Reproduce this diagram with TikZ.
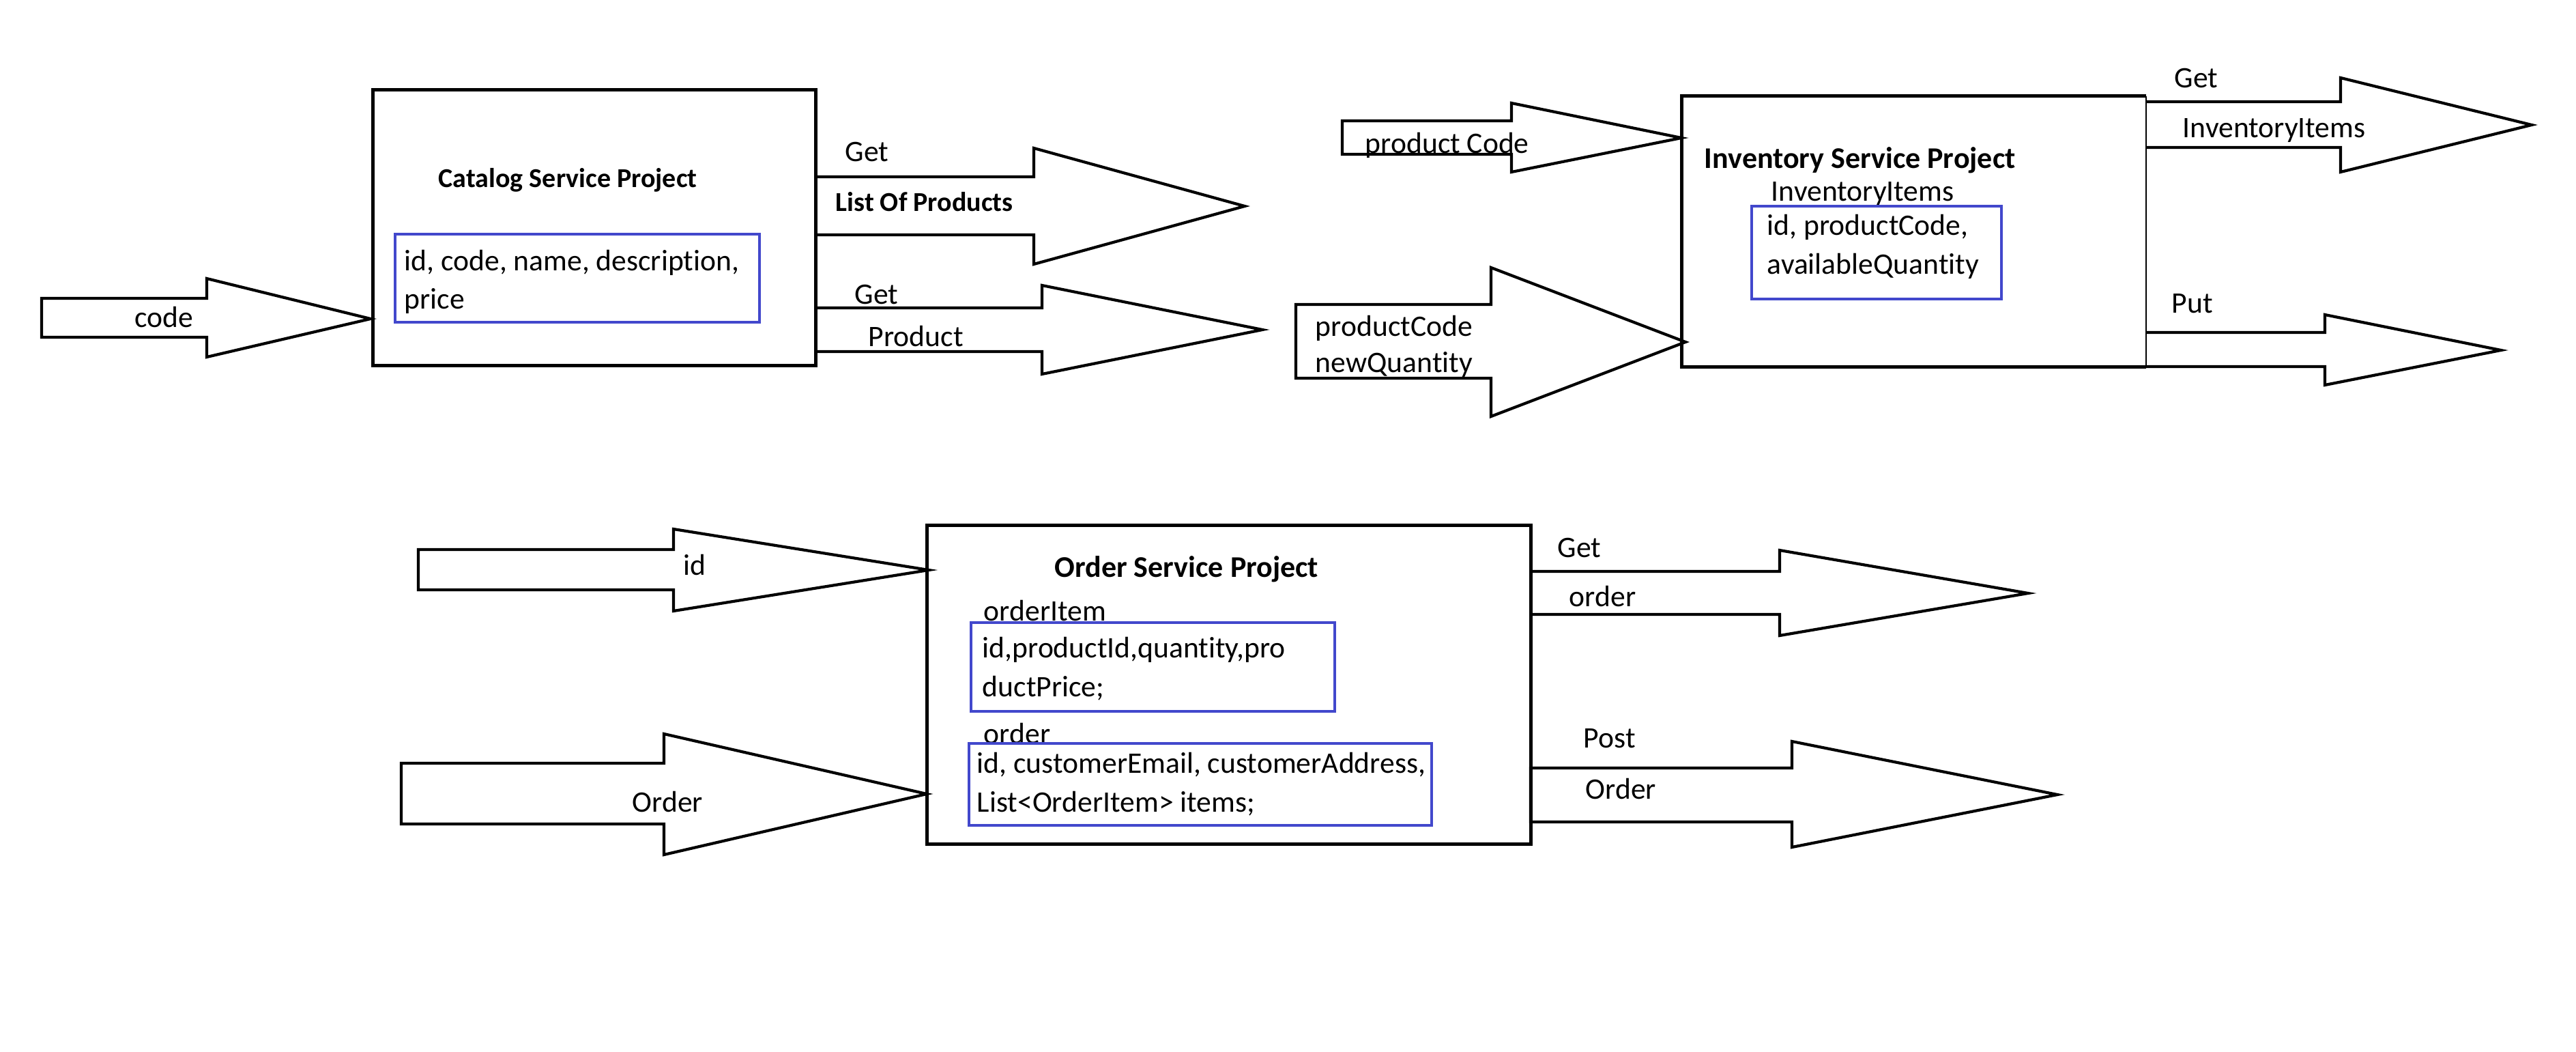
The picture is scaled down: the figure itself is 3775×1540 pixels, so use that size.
\documentclass[tikz,border=0pt]{standalone}
\usepackage{fontspec}
\setmainfont[Ligatures=NoCommon]{Carlito}
\definecolor{boxblue}{RGB}{66,72,204}
\newcommand{\closedarrow}[8]{\draw[blockarrow] (#1,#4) -- (#2,#4) -- (#2,#6) -- (#3,#8) -- (#2,#7) -- (#2,#5) -- (#1,#5) -- cycle;}
\newcommand{\openarrow}[8]{\draw[blockarrow] (#1,#4) -- (#2,#4) -- (#2,#6) -- (#3,#8) -- (#2,#7) -- (#2,#5) -- (#1,#5);}
\tikzset{
  svcbox/.style={draw=black, line width=1.25pt},
  fieldbox/.style={draw=boxblue, line width=1pt},
  blockarrow/.style={draw=black, line width=1.05pt, line join=miter},
  lbl/.style={inner sep=0pt, anchor=base west, font=\fontsize{10.9}{13}\selectfont},
  ttl/.style={inner sep=0pt, anchor=base west, font=\fontsize{10}{12}\selectfont\bfseries},
  bigttl/.style={inner sep=0pt, anchor=base west, font=\fontsize{11}{13}\selectfont\bfseries}
}
\begin{document}
\begin{tikzpicture}[x=0.25pt, y=-0.25pt]
\useasboundingbox (0,0) rectangle (3775,1540);
\fill[white] (0,0) rectangle (3775,1540);

% ---------- Catalog ----------
\draw[svcbox] (546,132) rectangle (1195,535);
\node[ttl] (cattitle) at (642,275) {Catalog Service Project};
\draw[fieldbox] (579,343) rectangle (1113,472);
\node[lbl] (catf1) at (592,397) {id, code, name, description,};
\node[lbl] (catf2) at (592,453) {price};
\closedarrow{61}{303}{543}{437}{494}{408}{523}{467}
\node[lbl] (codein) at (197,480) {code};
\openarrow{1195}{1515}{1824}{259}{344}{217}{387}{302}
\node[lbl] (catget1) at (1238,237) {Get};
\node[ttl] (catlist) at (1224,310) {List Of Products};
\openarrow{1195}{1527}{1850}{451}{515}{418}{548}{483}
\node[lbl] (catget2) at (1252,445) {Get};
\node[lbl] (catprod) at (1272,507) {Product};

% ---------- Inventory ----------
\draw[svcbox] (3145,141) -- (2464,141) -- (2464,537) -- (3145,537);
\draw[black, line width=0.5pt] (3145,141) -- (3145,537);
\node[bigttl] (invtitle) at (2497,247) {Inventory Service Project};
\node[lbl] (invitems) at (2595,295) {InventoryItems};
\draw[fieldbox] (2567,302) rectangle (2933,438);
\node[lbl] (invf1) at (2589,345) {id, productCode,};
\node[lbl] (invf2) at (2589,402) {availableQuantity};
\closedarrow{1967}{2215}{2464}{177}{226}{151}{252}{202}
\node[lbl] (pcin) at (2000,225) {product Code};
\closedarrow{1899}{2185}{2470}{446}{554}{392}{610}{501}
\node[lbl] (pcin2) at (1927,492) {productCode};
\node[lbl] (nqin) at (1927,545) {newQuantity};
\openarrow{3145}{3430}{3710}{149}{216}{114}{252}{183}
\node[lbl] (invget) at (3186,129) {Get};
\node[lbl] (invout) at (3198,202) {InventoryItems};
\openarrow{3145}{3407}{3665}{487}{537}{461}{564}{513}
\node[lbl] (invput) at (3182,458) {Put};

% ---------- Order ----------
\draw[svcbox] (1358,769) rectangle (2243,1236);
\node[bigttl] (ordtitle) at (1545,845) {Order Service Project};
\node[lbl] (oilbl) at (1441,909) {orderItem};
\draw[fieldbox] (1423,912) rectangle (1956,1042);
\node[lbl] (oif1) at (1439,963) {id,productId,quantity,pro};
\node[lbl] (oif2) at (1439,1020) {ductPrice;};
\node[lbl] (ordlbl) at (1441,1089) {order};
\draw[fieldbox] (1420,1089) rectangle (2098,1209);
\node[lbl] (ordf1) at (1431,1132) {id, customerEmail, customerAddress,};
\node[lbl] (ordf2) at (1431,1189) {List<OrderItem> items;};
\closedarrow{613}{987}{1361}{805}{864}{775}{895}{835}
\node[lbl] (idin) at (1001,842) {id};
\closedarrow{588}{973}{1358}{1118}{1207}{1075}{1252}{1163}
\node[lbl] (orderin) at (926,1189) {Order};
\openarrow{2243}{2608}{2972}{837}{900}{806}{931}{869}
\node[lbl] (ordget) at (2282,816) {Get};
\node[lbl] (ordout) at (2299,888) {order};
\closedarrow{2243}{2626}{3015}{1125}{1204}{1086}{1241}{1164}
\node[lbl] (ordpost) at (2320,1095) {Post};
\node[lbl] (ordout2) at (2323,1170) {Order};
\end{tikzpicture}
\end{document}
